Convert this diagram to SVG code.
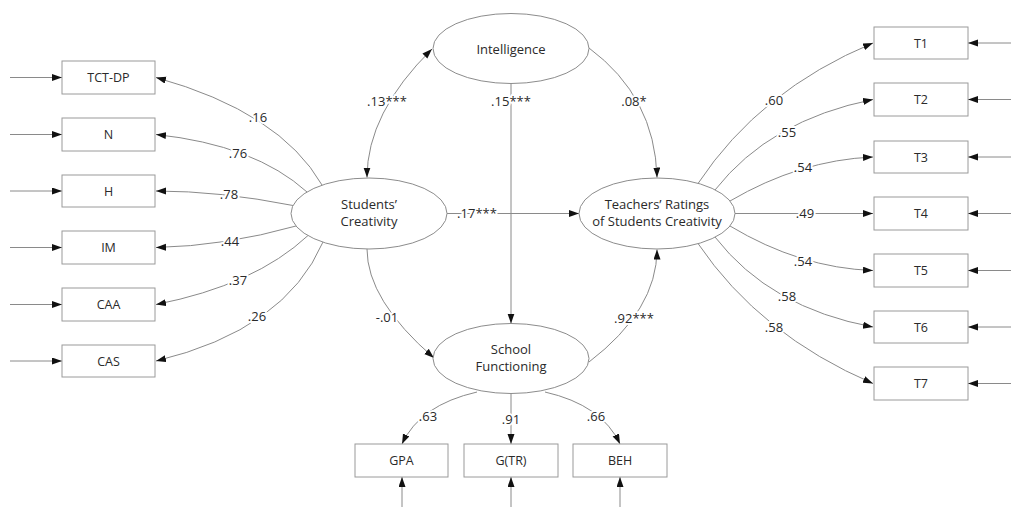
<svg xmlns="http://www.w3.org/2000/svg" width="1011" height="507" viewBox="0 0 1011 507">
<style>
  .box { fill: #fff; stroke: #9a9a9a; stroke-width: 1; }
  .ell { fill: #fff; stroke: #8c8c8c; stroke-width: 1; }
  .t { font-family: "Open Sans", "Liberation Sans", sans-serif; font-size: 13px; fill: #2a2a2a; text-anchor: middle; }
  .bt { font-family: "Open Sans", "Liberation Sans", sans-serif; font-size: 12.5px; fill: #2a2a2a; text-anchor: middle; dominant-baseline: central; }
  .lbl { font-family: "Open Sans", "Liberation Sans", sans-serif; font-size: 13px; fill: #2a2a2a; text-anchor: middle; dominant-baseline: central; paint-order: stroke; stroke: #fff; stroke-width: 4px; stroke-linejoin: round; }
  .c { fill: none; stroke: #8a8a8a; stroke-width: 1; marker-end: url(#ah); }
  .bi { marker-start: url(#ahs); }
</style>
<defs>
  <marker id="ah" markerUnits="userSpaceOnUse" markerWidth="11" markerHeight="8" refX="10" refY="3.5" orient="auto">
    <path d="M0,0 L10,3.5 L0,7 z" fill="#111"/>
  </marker>
  <marker id="ahs" markerUnits="userSpaceOnUse" markerWidth="11" markerHeight="8" refX="10" refY="3.5" orient="auto-start-reverse">
    <path d="M0,0 L10,3.5 L0,7 z" fill="#111"/>
  </marker>
</defs>
<rect width="1011" height="507" fill="#fff"/>

<g id="connectors">
  <path class="c" d="M10,77.5 H62"/>
  <path class="c" d="M10,134.5 H62"/>
  <path class="c" d="M10,191 H62"/>
  <path class="c" d="M10,247.5 H62"/>
  <path class="c" d="M10,304.5 H62"/>
  <path class="c" d="M10,361 H62"/>
  <path class="c" d="M1011,43 H968"/>
  <path class="c" d="M1011,99.5 H968"/>
  <path class="c" d="M1011,157 H968"/>
  <path class="c" d="M1011,213.5 H968"/>
  <path class="c" d="M1011,270.5 H968"/>
  <path class="c" d="M1011,327 H968"/>
  <path class="c" d="M1011,383.5 H968"/>
  <path class="c" d="M402,507 V477"/>
  <path class="c" d="M511,507 V477"/>
  <path class="c" d="M620,507 V477"/>

  <path class="c" d="M322,185 Q280,112 156,77.5"/>
  <path class="c" d="M307,192 Q255,145 156,134.5"/>
  <path class="c" d="M293,205.5 Q220,191 156,191"/>
  <path class="c" d="M296,226 Q225,246 156,247.5"/>
  <path class="c" d="M308,235.5 Q255,285 156,304.5"/>
  <path class="c" d="M323,242 Q285,330 156,361"/>

  <path class="c" d="M698,183.5 Q760,90 873,43"/>
  <path class="c" d="M715,190 Q770,120 873,99.5"/>
  <path class="c" d="M730,201 Q800,160 873,157"/>
  <path class="c" d="M735,213.5 H873"/>
  <path class="c" d="M730,226 Q800,268 873,270.5"/>
  <path class="c" d="M715,237 Q770,308 873,327"/>
  <path class="c" d="M698,243.5 Q760,335 873,383.5"/>

  <path class="c bi" d="M367,177.5 Q367,113 432,49"/>
  <path class="c" d="M589,48 Q655,97 657,177.5"/>
  <path class="c" d="M511,83.5 V323.5"/>
  <path class="c" d="M447,213.5 H579"/>
  <path class="c" d="M367,249 Q367,300 434,358"/>
  <path class="c" d="M589,362 Q657,310 657,249.5"/>

  <path class="c" d="M477,392 Q420,405 402,444"/>
  <path class="c" d="M511,393.5 V444"/>
  <path class="c" d="M545,392 Q602,405 620,444"/>

  <text class="lbl" x="258" y="117">.16</text>
  <text class="lbl" x="238" y="153">.76</text>
  <text class="lbl" x="229" y="194">.78</text>
  <text class="lbl" x="230" y="241">.44</text>
  <text class="lbl" x="238" y="280">.37</text>
  <text class="lbl" x="257" y="316">.26</text>

  <text class="lbl" x="774" y="100">.60</text>
  <text class="lbl" x="787" y="132">.55</text>
  <text class="lbl" x="803" y="167">.54</text>
  <text class="lbl" x="805" y="213">.49</text>
  <text class="lbl" x="803" y="261">.54</text>
  <text class="lbl" x="787" y="296">.58</text>
  <text class="lbl" x="774" y="327">.58</text>

  <text class="lbl" x="387" y="101">.13***</text>
  <text class="lbl" x="511" y="101">.15***</text>
  <text class="lbl" x="634" y="101">.08*</text>
  <text class="lbl" x="477" y="213">.17***</text>
  <text class="lbl" x="387" y="317">-.01</text>
  <text class="lbl" x="634" y="318">.92***</text>
  <text class="lbl" x="428" y="416">.63</text>
  <text class="lbl" x="511" y="419">.91</text>
  <text class="lbl" x="596" y="416">.66</text>
</g>

<g id="intelligence">
  <ellipse class="ell" cx="511" cy="48.5" rx="78" ry="35"/>
  <text class="bt" x="511" y="49" style="font-size:13px">Intelligence</text>
</g>
<g id="students-creativity">
  <ellipse class="ell" cx="369" cy="213.5" rx="78" ry="35.5"/>
  <text class="t" x="369" y="209">Students’</text>
  <text class="t" x="369" y="226">Creativity</text>
</g>
<g id="teachers-ratings">
  <ellipse class="ell" cx="657" cy="213.5" rx="78" ry="35.5"/>
  <text class="t" x="657" y="209">Teachers’ Ratings</text>
  <text class="t" x="657" y="226">of Students Creativity</text>
</g>
<g id="school-functioning">
  <ellipse class="ell" cx="511" cy="358.5" rx="78" ry="35"/>
  <text class="t" x="511" y="354">School</text>
  <text class="t" x="511" y="371">Functioning</text>
</g>

<g id="tct-dp"><rect class="box" x="62" y="61" width="93" height="33"/><text class="bt" x="108.5" y="77.5">TCT-DP</text></g>
<g id="n"><rect class="box" x="62" y="118" width="93" height="33"/><text class="bt" x="108.5" y="134.5">N</text></g>
<g id="h"><rect class="box" x="62" y="175" width="93" height="32"/><text class="bt" x="108.5" y="191">H</text></g>
<g id="im"><rect class="box" x="62" y="231" width="93" height="33"/><text class="bt" x="108.5" y="247.5">IM</text></g>
<g id="caa"><rect class="box" x="62" y="288" width="93" height="33"/><text class="bt" x="108.5" y="304.5">CAA</text></g>
<g id="cas"><rect class="box" x="62" y="345" width="93" height="32"/><text class="bt" x="108.5" y="361">CAS</text></g>

<g id="t1"><rect class="box" x="874" y="27" width="94" height="32"/><text class="bt" x="921" y="43">T1</text></g>
<g id="t2"><rect class="box" x="874" y="83" width="94" height="33"/><text class="bt" x="921" y="99.5">T2</text></g>
<g id="t3"><rect class="box" x="874" y="141" width="94" height="32"/><text class="bt" x="921" y="157">T3</text></g>
<g id="t4"><rect class="box" x="874" y="197" width="94" height="33"/><text class="bt" x="921" y="213.5">T4</text></g>
<g id="t5"><rect class="box" x="874" y="254" width="94" height="33"/><text class="bt" x="921" y="270.5">T5</text></g>
<g id="t6"><rect class="box" x="874" y="311" width="94" height="32"/><text class="bt" x="921" y="327">T6</text></g>
<g id="t7"><rect class="box" x="874" y="367" width="94" height="33"/><text class="bt" x="921" y="383.5">T7</text></g>

<g id="gpa"><rect class="box" x="355" y="444" width="93" height="33"/><text class="bt" x="401.5" y="460.5">GPA</text></g>
<g id="gtr"><rect class="box" x="464" y="444" width="94" height="33"/><text class="bt" x="511" y="460.5">G(TR)</text></g>
<g id="beh"><rect class="box" x="573" y="444" width="94" height="33"/><text class="bt" x="620" y="460.5">BEH</text></g>
</svg>
